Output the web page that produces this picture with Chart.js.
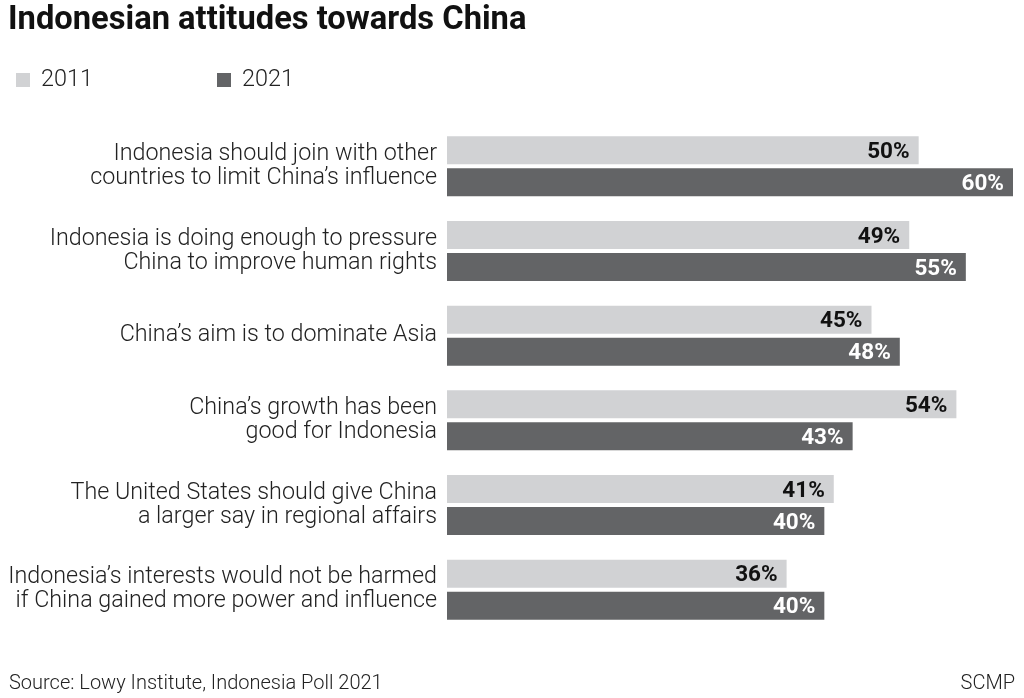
<!DOCTYPE html>
<html><head><meta charset="utf-8">
<script src="https://cdn.jsdelivr.net/npm/chart.js@4"></script>
<style>html,body{margin:0;padding:0;background:#fff;}#wrap{width:1024px;height:698px;position:relative;}</style>
</head><body><div id="wrap"><canvas id="c"></canvas></div>
<script>
const categories = [
  ["Indonesia should join with other", "countries to limit China\u2019s influence"],
  ["Indonesia is doing enough to pressure", "China to improve human rights"],
  ["China\u2019s aim is to dominate Asia"],
  ["China\u2019s growth has been", "good for Indonesia"],
  ["The United States should give China", "a larger say in regional affairs"],
  ["Indonesia\u2019s interests would not be harmed", "if China gained more power and influence"]
];
const values2011 = [50, 49, 45, 54, 41, 36];
const values2021 = [60, 55, 48, 43, 40, 40];
const seriesNames = ["2011", "2021"];
const titleText = "Indonesian attitudes towards China";
const sourceText = "Source: Lowy Institute, Indonesia Poll 2021";
const creditText = "SCMP";

const LIGHT = "#d1d2d4", DARK = "#636466";

const decor = {
  id: "decor",
  afterDraw(chart) {
    const ctx = chart.ctx;
    ctx.save();
    // title
    ctx.fillStyle = "#111";
    ctx.textBaseline = "middle";
    ctx.textAlign = "left";
    ctx.font = "bold 32.7px Roboto";
    ctx.fillText(titleText, 8, 21);
    // legend
    const legX = [16, 217];
    chart.data.datasets.forEach((ds, i) => {
      ctx.fillStyle = ds.backgroundColor;
      ctx.fillRect(legX[i], 73, 14, 14);
      ctx.fillStyle = "#222";
      ctx.font = "300 23.4px Roboto";
      ctx.fillText(ds.label, legX[i] + 25, 80);
    });
    // value labels
    chart.data.datasets.forEach((ds, i) => {
      const meta = chart.getDatasetMeta(i);
      ctx.font = "bold 22.5px Roboto";
      ctx.textAlign = "right";
      ctx.fillStyle = i === 0 ? "#111" : "#fff";
      meta.data.forEach((bar, j) => {
        ctx.fillText(ds.data[j] + "%", bar.x - 9, bar.y + 2);
      });
    });
    // footer
    ctx.fillStyle = "#222";
    ctx.textAlign = "left";
    ctx.font = "300 20px Roboto";
    ctx.fillText(sourceText, 9, 684);
    ctx.textAlign = "right";
    ctx.fillText(creditText, 1015, 684);
    ctx.restore();
  }
};

new Chart(document.getElementById("c"), {
  type: "bar",
  data: {
    labels: categories,
    datasets: [
      { label: seriesNames[0], data: values2011, backgroundColor: LIGHT },
      { label: seriesNames[1], data: values2021, backgroundColor: DARK }
    ]
  },
  options: {
    indexAxis: "y",
    responsive: true,
    maintainAspectRatio: false,
    animation: false,
    devicePixelRatio: 1,
    layout: { padding: { top: 124, bottom: 66, left: 0, right: 11 } },
    datasets: { bar: { categoryPercentage: 0.755, barPercentage: 0.875 } },
    plugins: { legend: { display: false }, title: { display: false }, tooltip: { enabled: false } },
    scales: {
      x: { display: false, min: 0, max: 60 },
      y: {
        grid: { display: false, drawTicks: false },
        border: { display: false },
        ticks: { color: "#222", font: { family: "Roboto", size: 23.3, weight: "300", lineHeight: 1.03 }, padding: 10 },
        afterFit(scale) { scale.width = 447; }
      }
    }
  },
  plugins: [decor]
});
</script></body></html>
